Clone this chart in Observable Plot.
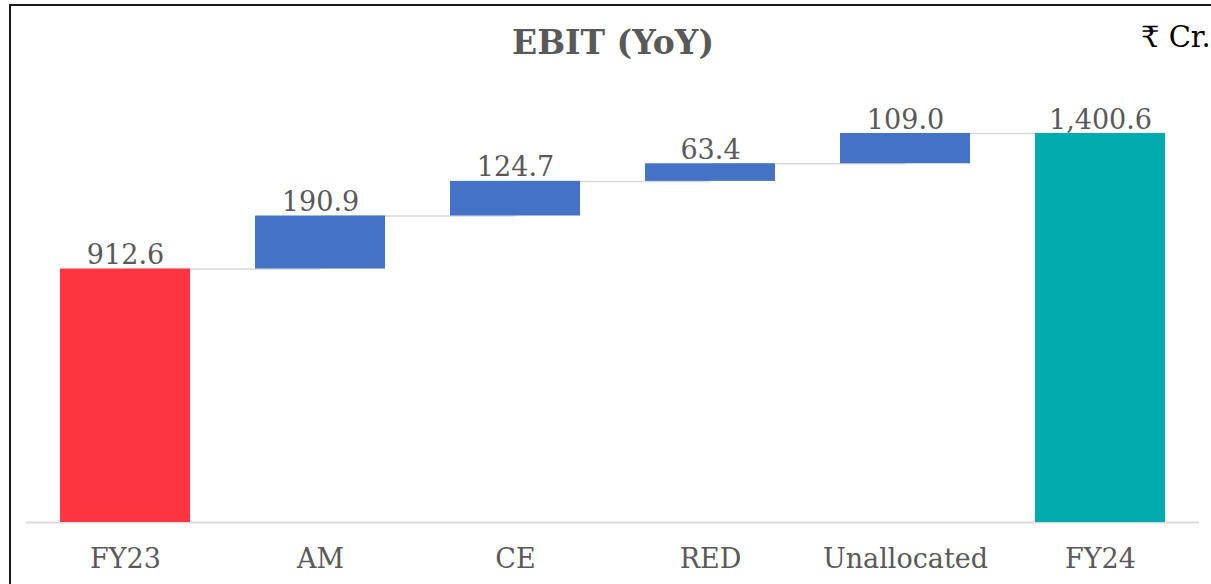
<!DOCTYPE html>
<html>
<head>
<meta charset="utf-8">
<script src="https://cdn.jsdelivr.net/npm/d3@7"></script>
<script src="https://cdn.jsdelivr.net/npm/@observablehq/plot@0.6"></script>
<style>
  html, body { margin: 0; padding: 0; background: #fff; }
  #wrap { position: relative; width: 1211px; height: 584px; overflow: hidden; background: #fff; }
  #border-top { position: absolute; left: 9px; top: 4px; width: 1202px; height: 2px; background: #1a1a1a; }
  #border-left { position: absolute; left: 9px; top: 4px; width: 2px; height: 580px; background: #1a1a1a; }
  #title { position: absolute; left: 0; width: 1226px; top: 23px; text-align: center;
           font-family: "DejaVu Serif", serif; font-weight: bold; font-size: 33px; color: #595959; }
  #unit { position: absolute; left: 1141px; top: 20px; font-family: "DejaVu Serif", serif;
          font-size: 29px; color: #000; white-space: nowrap; }
  #chart { position: absolute; left: 0; top: 0; }
</style>
</head>
<body>
<div id="wrap">
  <div id="chart"></div>
  <div id="border-top"></div>
  <div id="border-left"></div>
  <div id="title">EBIT (YoY)</div>
  <div id="unit">₹ Cr.</div>
</div>
<script>
const categories = ["FY23", "AM", "CE", "RED", "Unallocated", "FY24"];
const values = [912.6, 190.9, 124.7, 63.4, 109.0, 1400.6];
const kinds = ["start", "delta", "delta", "delta", "delta", "total"];
const labels = ["912.6", "190.9", "124.7", "63.4", "109.0", "1,400.6"];
const colors = {start: "#FC3540", delta: "#4472C4", total: "#00AAAD"};

let run = 0;
const data = categories.map((c, i) => {
  let y1, y2;
  if (kinds[i] === "delta") { y1 = run; y2 = run + values[i]; run = y2; }
  else { y1 = 0; y2 = values[i]; run = values[i]; }
  return {cat: c, y1, y2, kind: kinds[i], label: labels[i]};
});
const links = data.slice(0, -1).map((d, i) => ({a: d.cat, b: data[i + 1].cat, y: d.y2}));

const chart = Plot.plot({
  width: 1211,
  height: 584,
  marginTop: 133,
  marginBottom: 62,
  marginLeft: 26,
  marginRight: 12,
  style: {fontFamily: "DejaVu Serif, serif", background: "transparent"},
  x: {domain: categories, paddingInner: 0.335, paddingOuter: 0.1675, axis: null},
  y: {domain: [0, 1400.6], axis: null},
  marks: [
    Plot.link(links, {x1: "a", x2: "b", y1: "y", y2: "y", stroke: "#D9D9D9", strokeWidth: 1.5}),
    Plot.ruleY([0], {stroke: "#D9D9D9", strokeWidth: 2}),
    Plot.rectY(data, {x: "cat", y1: "y1", y2: "y2", fill: d => colors[d.kind]}),
    Plot.text(data, {x: "cat", y: "y2", text: "label", lineAnchor: "bottom", dy: -5,
      fontSize: 27, fill: "#595959"}),
    Plot.text(data, {x: "cat", text: "cat", frameAnchor: "bottom", lineAnchor: "middle", dy: 37,
      fontSize: 27, fill: "#595959"})
  ]
});
document.getElementById("chart").appendChild(chart);
</script>
</body>
</html>
